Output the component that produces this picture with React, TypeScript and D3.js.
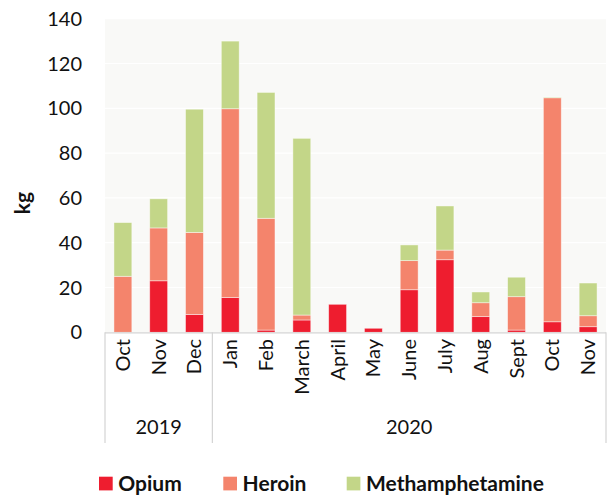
import React from "react";
import * as d3 from "d3";

const months = ["Oct", "Nov", "Dec", "Jan", "Feb", "March", "April", "May", "June", "July", "Aug", "Sept", "Oct", "Nov"];
const years = ["2019", "2020"];
const yearCounts = [3, 11];
const opium = [0, 23, 8, 15.5, 1, 5.5, 12.5, 1.8, 19, 32.4, 7, 1, 4.7, 2.5];
const heroin = [25, 23.6, 36.6, 84.3, 49.9, 2.2, 0, 0, 13, 4.3, 6.2, 14.9, 100, 4.9];
const meth = [24, 13, 55, 30.2, 56.2, 78.9, 0, 0, 7, 19.7, 4.8, 8.7, 0.3, 14.6];
const seriesNames = ["Opium", "Heroin", "Methamphetamine"];
const yTicks = [0, 20, 40, 60, 80, 100, 120, 140];

const colors = ["#EE1D2F", "#F4846C", "#C3D688"];
const FONT = "Lato, 'Open Sans', sans-serif";

export default function App() {
  const left = 105, right = 606, top = 18.7, bottom = 332.3;
  const keys = months.map((m, i) => `${i}`);
  const x = d3.scaleBand<string>().domain(keys).range([left, right]).paddingInner(0.5).paddingOuter(0.25);
  const y = d3.scaleLinear().domain([0, 140]).range([bottom, top]);

  const table = months.map((m, i) => ({ key: `${i}`, Opium: opium[i], Heroin: heroin[i], Methamphetamine: meth[i] }));
  const stacked = d3.stack<any>().keys(seriesNames)(table);

  const step = x.step();
  const sepXs: number[] = [left];
  let acc = 0;
  yearCounts.forEach((c) => { acc += c; sepXs.push(left + x.paddingOuter() * 0 + acc * step); });
  sepXs[sepXs.length - 1] = right;

  const legendItems = [
    { name: seriesNames[0], x: 99 },
    { name: seriesNames[1], x: 223.3 },
    { name: seriesNames[2], x: 346.7 },
  ];

  return (
    <svg width={612} height={497} style={{ position: "absolute", left: 0, top: 0 }} fontFamily={FONT}>
      <rect x={0} y={0} width={612} height={497} fill="#fff" />
      <rect x={left} y={top} width={right - left} height={bottom - top} fill="#F9F9F7" />
      {yTicks.filter((t) => t > 0).map((t) => (
        <line key={t} x1={left} x2={right} y1={y(t)} y2={y(t)} stroke="#fff" strokeWidth={1.2} />
      ))}
      {stacked.map((s, si) => (
        <g key={s.key} fill={colors[si]}>
          {s.map((d, i) => {
            const h = y(d[0]) - y(d[1]);
            if (h <= 0) return null;
            return (
              <rect key={i} x={x(keys[i])} width={x.bandwidth()} y={y(d[1])} height={h}
                stroke="#fff" strokeOpacity={0.55} strokeWidth={0.8} />
            );
          })}
        </g>
      ))}
      <line x1={left} x2={right} y1={bottom + 0.5} y2={bottom + 0.5} stroke="#D4D4D4" strokeWidth={1.2} />
      {sepXs.map((sx, i) => (
        <line key={i} x1={sx} x2={sx} y1={bottom} y2={443} stroke="#D4D4D4" strokeWidth={1.2} />
      ))}
      {yTicks.map((t) => (
        <text key={t} x={82} y={y(t)} dy="0.35em" textAnchor="end" fontSize={20} fill="#111">{t}</text>
      ))}
      <text transform={`translate(30,203) rotate(-90)`} textAnchor="middle" fontSize={21} fontWeight="bold" fill="#111">kg</text>
      {months.map((m, i) => (
        <text key={i} transform={`translate(${(x(keys[i]) as number) + x.bandwidth() / 2},339) rotate(-90)`}
          textAnchor="end" dy="0.35em" fontSize={20} fill="#111">{m}</text>
      ))}
      {years.map((yr, i) => (
        <text key={yr} x={(sepXs[i] + sepXs[i + 1]) / 2} y={434} textAnchor="middle" fontSize={20} fill="#111">{yr}</text>
      ))}
      {legendItems.map((it, i) => (
        <g key={it.name}>
          <rect x={it.x} y={476.7} width={13.7} height={13.7} fill={colors[i]} />
          <text x={it.x + 19.3} y={484} dy="0.35em" fontSize={21} fontWeight="bold" fill="#111">{it.name}</text>
        </g>
      ))}
    </svg>
  );
}
